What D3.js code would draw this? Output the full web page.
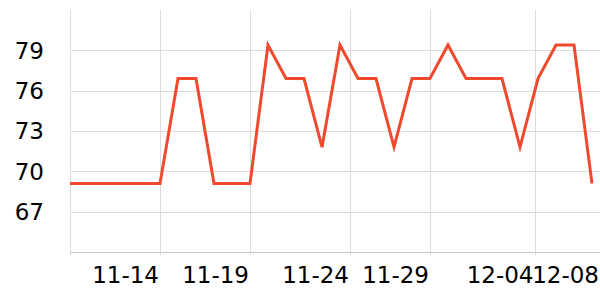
<!DOCTYPE html>
<html>
<head>
<meta charset="utf-8">
<script src="https://cdn.jsdelivr.net/npm/d3@7"></script>
<style>
  body { margin: 0; background: #fff; }
  text { font-family: "DejaVu Sans", sans-serif; }
</style>
</head>
<body>
<svg id="chart" width="600" height="300"></svg>
<script>
// daily values 11-09 .. 12-08
const dates = ["2023-11-09","2023-11-10","2023-11-11","2023-11-12","2023-11-13","2023-11-14",
  "2023-11-15","2023-11-16","2023-11-17","2023-11-18","2023-11-19","2023-11-20",
  "2023-11-21","2023-11-22","2023-11-23","2023-11-24","2023-11-25","2023-11-26",
  "2023-11-27","2023-11-28","2023-11-29","2023-11-30","2023-12-01","2023-12-02",
  "2023-12-03","2023-12-04","2023-12-05","2023-12-06","2023-12-07","2023-12-08"];
const values = [69.1,69.1,69.1,69.1,69.1,69.1,
  76.9,76.9,69.1,69.1,69.1,79.4,
  76.9,76.9,71.8,79.4,76.9,76.9,
  71.8,76.9,76.9,79.4,76.9,76.9,
  76.9,71.8,76.9,79.4,79.4,69.1];
// tick positions as they sit in the picture (not all on midnight)
const xTicks = ["2023-11-09T00:00","2023-11-14T00:00","2023-11-19T00:00","2023-11-24T13:20",
  "2023-11-29T00:00","2023-12-04T19:20","2023-12-08T10:40"];
const xTickLabels = ["","11-14","11-19","11-24","11-29","12-04","12-08"];
const yTicks = [67,70,73,76,79];

const svg = d3.select("#chart");
const W = 600, mLeft = 70, mTop = 10, mBottom = 252;
const parse = d3.utcParse("%Y-%m-%d");
const parseT = d3.utcParse("%Y-%m-%dT%H:%M");

const data = dates.map((d,i)=>({date: parse(d), value: values[i]}));

const x = d3.scaleUtc()
    .domain(d3.extent(data, d=>d.date))
    .range([mLeft, 592]);
const y = d3.scaleLinear().domain([64, 82]).range([mBottom, mTop]);

// horizontal grid
svg.append("g")
  .selectAll("line").data(yTicks).enter().append("line")
  .attr("x1", mLeft).attr("x2", W)
  .attr("y1", d=>Math.round(y(d))+0.5).attr("y2", d=>Math.round(y(d))+0.5)
  .attr("stroke", "#dcdcdc").attr("stroke-width", 1);

// vertical grid
const tks = xTicks.map(parseT);
svg.append("g")
  .selectAll("line").data(tks).enter().append("line")
  .attr("x1", d=>Math.round(x(d))+0.5).attr("x2", d=>Math.round(x(d))+0.5)
  .attr("y1", mTop).attr("y2", mBottom + 3)
  .attr("stroke", "#dcdcdc").attr("stroke-width", 1);

// bottom axis line
svg.append("line")
  .attr("x1", mLeft).attr("x2", W)
  .attr("y1", mBottom+0.5).attr("y2", mBottom+0.5)
  .attr("stroke", "#c8c8c8").attr("stroke-width", 1);

// x labels, end-anchored at the tick
svg.append("g")
  .selectAll("text").data(tks).enter().append("text")
  .attr("x", d=>x(d) - 1)
  .attr("y", 283)
  .attr("text-anchor", "end")
  .style("font-size", "23px")
  .attr("fill", "#000")
  .text((d,i)=>xTickLabels[i]);

// y labels
svg.append("g")
  .selectAll("text").data(yTicks).enter().append("text")
  .attr("x", 44)
  .attr("y", d=>y(d))
  .attr("dy", "0.36em")
  .attr("text-anchor", "end")
  .style("font-size", "23px")
  .attr("fill", "#000")
  .text(d=>d);

const line = d3.line().x(d=>x(d.date)).y(d=>y(d.value));
svg.append("path")
  .datum(data)
  .attr("d", line)
  .attr("fill", "none")
  .attr("stroke", "#ef4a2e")
  .attr("stroke-width", 3)
  .attr("stroke-linejoin", "miter");
</script>
</body>
</html>
